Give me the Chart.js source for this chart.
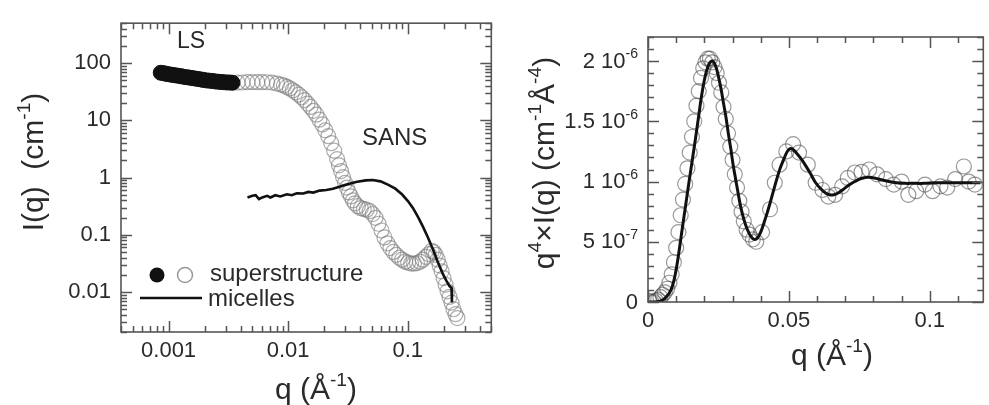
<!DOCTYPE html>
<html>
<head>
<meta charset="utf-8">
<title>Superstructure and micelles scattering</title>
<script src="https://cdn.jsdelivr.net/npm/chart.js@4.4.1/dist/chart.umd.min.js"></script>
<style>
  html, body { margin: 0; padding: 0; background: #fff; }
  #page { position: relative; width: 989px; height: 405px; overflow: hidden; }
  .panel { position: absolute; top: 0; height: 405px; overflow: hidden; }
  #leftPanel { left: 0; width: 500px; }
  #rightPanel { left: 500px; width: 489px; }
</style>
</head>
<body>
<div id="page">
  <div class="panel" id="leftPanel"><canvas id="logPlot" width="500" height="405"></canvas></div>
  <div class="panel" id="rightPanel"><canvas id="porodPlot" width="492" height="405"></canvas></div>
</div>
<script>
// ---- left panel: I(q) on log-log axes ----

// light scattering (filled symbols)
const lsQ = [0.00086, 0.00091, 0.00096, 0.00101, 0.00107, 0.00113, 0.00119, 0.00126, 0.00133, 0.00141,
  0.00149, 0.00157, 0.00166, 0.00176, 0.00186, 0.00196, 0.00207, 0.00219, 0.00232, 0.00245,
  0.00259, 0.00274, 0.0029, 0.00306, 0.00324, 0.00342];
const lsI = [68, 67, 65, 64, 62.5, 61.5, 60.5, 59.5, 58, 57,
  56, 55, 54, 53, 52, 51, 50, 49.5, 49, 48,
  47.5, 47, 46.5, 46, 46, 45.5];

// SANS on the superstructure (open symbols)
const sansQ = [0.00378, 0.00415, 0.00457, 0.00502, 0.00552, 0.00607, 0.00667, 0.00734, 0.00807, 0.00871,
  0.00922, 0.00976, 0.01033, 0.01093, 0.01157, 0.01226, 0.01297, 0.01373, 0.01454, 0.01539,
  0.01629, 0.01724, 0.01825, 0.01932, 0.02046, 0.02165, 0.02293, 0.02427, 0.02569, 0.0266,
  0.0277, 0.02879, 0.0299, 0.031, 0.03226, 0.0335, 0.0348, 0.03615, 0.03827, 0.04052,
  0.04289, 0.04539, 0.04806, 0.05088, 0.05384, 0.05702, 0.06034, 0.06387, 0.06762, 0.07158,
  0.07577, 0.08022, 0.08493, 0.08991, 0.09519, 0.10076, 0.10666, 0.11294, 0.11956, 0.12655,
  0.13396, 0.14184, 0.15014, 0.15892, 0.165, 0.1714, 0.17809, 0.185, 0.192, 0.19957,
  0.2074, 0.2153, 0.22362, 0.2323, 0.2413, 0.25061, 0.26031];
const sansI = [45.7, 46.0, 46.6, 46.6, 46.6, 46.6, 46.4, 45.7, 44.0, 42.3,
  40.7, 38.5, 36.2, 33.6, 30.9, 28.1, 25.4, 22.6, 19.7, 17.2,
  14.7, 12.6, 10.3, 8.5, 6.7, 5.3, 4.0, 2.95, 2.1, 1.64,
  1.30, 1.02, 0.81, 0.67, 0.55, 0.47, 0.40, 0.355, 0.316, 0.292,
  0.281, 0.275, 0.260, 0.231, 0.198, 0.156, 0.119, 0.090, 0.071, 0.0587,
  0.0502, 0.0446, 0.0397, 0.0367, 0.0339, 0.0326, 0.0314, 0.0314, 0.032, 0.0339,
  0.0367, 0.0413, 0.046, 0.0522, 0.050, 0.0446, 0.0367, 0.029, 0.023, 0.0175,
  0.0134, 0.0103, 0.0082, 0.0065, 0.005, 0.0041, 0.0035];

// micelles alone (line)
const micQ = [0.00457, 0.00502, 0.00535, 0.0057, 0.00607, 0.00667, 0.00711, 0.00781, 0.00859, 0.00976,
  0.01073, 0.01179, 0.0134, 0.01472, 0.0162, 0.01836, 0.02084, 0.02367, 0.02685, 0.03048,
  0.03685, 0.04454, 0.05088, 0.05922, 0.06893, 0.07872, 0.08991, 0.10076, 0.1108, 0.1218,
  0.134, 0.1473, 0.162, 0.1781, 0.1958, 0.2113, 0.2236, 0.2323, 0.2343];
const micI = [0.450, 0.481, 0.492, 0.421, 0.450, 0.481, 0.450, 0.492, 0.468, 0.512,
  0.492, 0.532, 0.526, 0.562, 0.547, 0.592, 0.608, 0.640, 0.692, 0.748,
  0.841, 0.893, 0.91, 0.859, 0.748, 0.640, 0.506, 0.385, 0.292, 0.206,
  0.139, 0.0904, 0.0565, 0.0339, 0.0212, 0.0155, 0.0127, 0.0118, 0.00655];

const logTicksQ = [0.001, 0.01, 0.1];
const logTicksI = [0.01, 0.1, 1, 10, 100];

// ---- right panel: q^4 I(q) on linear axes (values in units of 1e-6) ----
const porodQ = [0.0004, 0.0012, 0.002, 0.0028, 0.0036, 0.0044, 0.0052, 0.006, 0.0068, 0.0076,
  0.0084, 0.0092, 0.01, 0.0108, 0.0116, 0.0124, 0.0132, 0.014, 0.0148, 0.0156,
  0.0164, 0.0172, 0.018, 0.0188, 0.0196, 0.0204, 0.0212, 0.022, 0.0228, 0.0236,
  0.0244, 0.0252, 0.026, 0.0268, 0.0276, 0.0284, 0.0292, 0.03, 0.0308, 0.0316,
  0.0324, 0.0332, 0.034, 0.035, 0.036, 0.0372, 0.0384, 0.0405, 0.0433, 0.045,
  0.0467, 0.0491, 0.0515, 0.0536, 0.0567, 0.0595, 0.0619, 0.064, 0.0664, 0.0689,
  0.0709, 0.0734, 0.0758, 0.0785, 0.0813, 0.0844, 0.0872, 0.09, 0.0924, 0.0952,
  0.0983, 0.101, 0.1038, 0.1062, 0.109, 0.1121, 0.1138, 0.116];
const porodV = [0.01, 0.0, 0.0, 0.01, 0.02, 0.04, 0.06, 0.08, 0.11, 0.16,
  0.23, 0.33, 0.45, 0.58, 0.72, 0.85, 0.98, 1.11, 1.24, 1.37,
  1.50, 1.63, 1.75, 1.86, 1.94, 1.99, 2.02, 2.02, 1.99, 1.95,
  1.90, 1.82, 1.74, 1.62, 1.52, 1.40, 1.29, 1.18, 1.06, 0.95,
  0.84, 0.75, 0.67, 0.60, 0.56, 0.52, 0.50, 0.58, 0.77, 0.99,
  1.14, 1.25, 1.31, 1.24, 1.14, 0.99, 0.93, 0.875, 0.89, 0.96,
  1.03, 1.075, 1.08, 1.10, 1.06, 1.02, 0.975, 1.0, 0.89, 0.92,
  0.975, 0.92, 0.96, 0.95, 1.02, 1.125, 1.0, 0.975];

// model curve
const fitQ = [0, 0.002, 0.004, 0.0055, 0.0066, 0.0077, 0.0087, 0.0096, 0.0104, 0.0112,
  0.0121, 0.013, 0.0138, 0.0147, 0.0156, 0.0165, 0.0173, 0.0182, 0.019, 0.0199,
  0.0208, 0.0218, 0.0228, 0.0236, 0.0244, 0.0252, 0.026, 0.0268, 0.0277, 0.0285,
  0.0294, 0.0302, 0.0311, 0.032, 0.0329, 0.0341, 0.0353, 0.0365, 0.0377, 0.0388,
  0.04, 0.0412, 0.0423, 0.0433, 0.0445, 0.0457, 0.0469, 0.0481, 0.0492, 0.0502,
  0.0513, 0.0526, 0.0543, 0.056, 0.0578, 0.0595, 0.0613, 0.063, 0.0645, 0.066,
  0.0675, 0.069, 0.0712, 0.0734, 0.0756, 0.0779, 0.0803, 0.0827, 0.0855, 0.0882,
  0.0912, 0.0941, 0.098, 0.1021, 0.106, 0.1104, 0.114, 0.118];
const fitV = [0, 0, 0.005, 0.02, 0.045, 0.08, 0.135, 0.22, 0.325, 0.45,
  0.60, 0.745, 0.875, 1.02, 1.16, 1.30, 1.43, 1.58, 1.71, 1.83,
  1.92, 1.98, 2.00, 1.98, 1.93, 1.85, 1.76, 1.65, 1.53, 1.40,
  1.27, 1.14, 1.02, 0.90, 0.79, 0.68, 0.60, 0.545, 0.52, 0.53,
  0.58, 0.66, 0.74, 0.82, 0.92, 1.02, 1.11, 1.18, 1.24, 1.27,
  1.27, 1.24, 1.19, 1.13, 1.06, 0.99, 0.94, 0.905, 0.89, 0.89,
  0.905, 0.93, 0.97, 1.00, 1.025, 1.035, 1.03, 1.015, 1.00, 0.99,
  0.985, 0.985, 0.985, 0.99, 0.99, 0.99, 0.99, 0.99];

const linTicksQ = [0, 0.05, 0.1];
const linTicksV = [0, 0.5e-6, 1e-6, 1.5e-6, 2e-6];
const linTickText = [['0', ''], ['5 10', '-7'], ['1 10', '-6'], ['1.5 10', '-6'], ['2 10', '-6']];

const FONT = "'Liberation Sans', Arial, Helvetica, sans-serif";
const INK = '#2a2a2a';
const FRAME = '#555';

const pairs = (xs, ys, k = 1) => xs.map((x, i) => ({ x: x, y: ys[i] * k }));

// text with superscripts; parts = [[text, isSuperscript], ...]
function drawRich(ctx, parts, x, y, size, align) {
  const supSize = size * 0.64;
  let width = 0;
  for (const [t, up] of parts) {
    ctx.font = (up ? supSize : size) + 'px ' + FONT;
    width += ctx.measureText(t).width;
  }
  let cx = align === 'right' ? x - width : align === 'center' ? x - width / 2 : x;
  ctx.textAlign = 'left';
  ctx.textBaseline = 'alphabetic';
  for (const [t, up] of parts) {
    ctx.font = (up ? supSize : size) + 'px ' + FONT;
    ctx.fillText(t, cx, up ? y - size * 0.42 : y);
    cx += ctx.measureText(t).width;
  }
}

function drawRichUp(ctx, parts, x, y, size) {
  ctx.save();
  ctx.translate(x, y);
  ctx.rotate(-Math.PI / 2);
  drawRich(ctx, parts, 0, 0, size, 'center');
  ctx.restore();
}

function logSteps(min, max) {
  const out = [];
  for (let e = Math.floor(Math.log10(min)); e <= Math.ceil(Math.log10(max)); e++) {
    for (let m = 1; m <= 9; m++) {
      const v = m * Math.pow(10, e);
      if (v >= min && v <= max) out.push([v, m === 1]);
    }
  }
  return out;
}

function linSteps(min, max, step, every) {
  const out = [];
  for (let i = 0; i * step <= max + 1e-12; i++) {
    const v = i * step;
    if (v >= min) out.push([v, i % every === 0]);
  }
  return out;
}

// box around the plot with inward ticks on all four sides
function drawFrame(chart, xMarks, yMarks) {
  const ctx = chart.ctx;
  const { left, right, top, bottom } = chart.chartArea;
  const xs = chart.scales.x, ys = chart.scales.y;
  ctx.save();
  ctx.strokeStyle = FRAME;
  ctx.lineWidth = 1.6;
  ctx.strokeRect(left, top, right - left, bottom - top);
  ctx.lineWidth = 1.5;
  ctx.beginPath();
  for (const [v, major] of xMarks) {
    const p = Math.round(xs.getPixelForValue(v)) + 0.5;
    const len = major ? 11 : 6;
    ctx.moveTo(p, bottom); ctx.lineTo(p, bottom - len);
    ctx.moveTo(p, top); ctx.lineTo(p, top + len);
  }
  for (const [v, major] of yMarks) {
    const p = Math.round(ys.getPixelForValue(v)) + 0.5;
    const len = major ? 11 : 6;
    ctx.moveTo(left, p); ctx.lineTo(left + len, p);
    ctx.moveTo(right, p); ctx.lineTo(right - len, p);
  }
  ctx.stroke();
  ctx.restore();
}

const leftDecor = {
  id: 'leftDecor',
  afterDraw(chart) {
    const ctx = chart.ctx;
    drawFrame(chart, logSteps(0.0004, 0.5), logSteps(0.002, 500));
    ctx.save();
    ctx.fillStyle = INK;
    drawRichUp(ctx, [['I(q)  (cm', false], ['-1', true], [')', false]], 43, 162, 30);
    drawRich(ctx, [['q (Å', false], ['-1', true], [')', false]], 316, 399, 30, 'center');
    drawRich(ctx, [['LS', false]], 177, 48, 23, 'left');
    drawRich(ctx, [['SANS', false]], 362, 145, 24, 'left');

    // key
    ctx.beginPath();
    ctx.arc(157, 275, 7.5, 0, Math.PI * 2);
    ctx.fillStyle = '#111';
    ctx.fill();
    ctx.beginPath();
    ctx.arc(185, 275, 7.5, 0, Math.PI * 2);
    ctx.strokeStyle = '#999';
    ctx.lineWidth = 1.5;
    ctx.stroke();
    ctx.beginPath();
    ctx.moveTo(140, 298);
    ctx.lineTo(202, 298);
    ctx.strokeStyle = '#111';
    ctx.lineWidth = 2.6;
    ctx.stroke();
    ctx.fillStyle = INK;
    drawRich(ctx, [['superstructure', false]], 210, 281, 24, 'left');
    drawRich(ctx, [['micelles', false]], 208, 306, 24, 'left');
    ctx.restore();
  }
};

const rightDecor = {
  id: 'rightDecor',
  afterDraw(chart) {
    const ctx = chart.ctx;
    drawFrame(chart, linSteps(0, 0.119, 0.01, 5), linSteps(0, 2.2e-6, 1e-7, 5));
    const ys = chart.scales.y;
    ctx.save();
    ctx.fillStyle = INK;
    linTicksV.forEach((v, i) => {
      const [base, exp] = linTickText[i];
      const parts = exp ? [[base, false], [exp, true]] : [[base, false]];
      drawRich(ctx, parts, chart.chartArea.left - 10, ys.getPixelForValue(v) + 6.5, 22, 'right');
    });
    drawRichUp(ctx, [['q', false], ['4', true], ['×I(q) (cm', false], ['-1', true], ['Å', false], ['-4', true], [')', false]], 54, 163, 30);
    drawRich(ctx, [['q (Å', false], ['-1', true], [')', false]], 332, 365, 30, 'center');
    ctx.restore();
  }
};

const tickFont = { family: FONT, size: 22 };

new Chart(document.getElementById('logPlot'), {
  type: 'scatter',
  data: {
    datasets: [
      {
        label: 'micelles',
        data: pairs(micQ, micI),
        showLine: true,
        borderColor: '#111',
        borderWidth: 2.6,
        pointRadius: 0,
        tension: 0,
        order: 0
      },
      {
        label: 'LS',
        data: pairs(lsQ, lsI),
        pointRadius: 7.5,
        backgroundColor: '#111',
        borderColor: '#111',
        borderWidth: 1,
        order: 1
      },
      {
        label: 'SANS',
        data: pairs(sansQ, sansI),
        pointRadius: 7.5,
        backgroundColor: 'rgba(0,0,0,0)',
        borderColor: 'rgba(120,120,120,0.6)',
        borderWidth: 1.2,
        order: 2
      }
    ]
  },
  options: {
    responsive: false,
    animation: false,
    layout: { padding: { top: 15, right: 4, left: 0, bottom: 0 } },
    plugins: { legend: { display: false }, tooltip: { enabled: false } },
    scales: {
      x: {
        type: 'logarithmic',
        min: 0.0004,
        max: 0.5,
        grid: { display: false, drawTicks: false },
        border: { display: false },
        afterBuildTicks: s => { s.ticks = logTicksQ.map(v => ({ value: v })); },
        afterFit: s => { s.height = 73; },
        ticks: { callback: v => String(v), font: tickFont, color: INK, padding: 6, maxRotation: 0, autoSkip: false }
      },
      y: {
        type: 'logarithmic',
        min: 0.002,
        max: 500,
        grid: { display: false, drawTicks: false },
        border: { display: false },
        afterBuildTicks: s => { s.ticks = logTicksI.map(v => ({ value: v })); },
        afterFit: s => { s.width = 121; },
        ticks: { callback: v => String(v), font: tickFont, color: INK, padding: 10, autoSkip: false }
      }
    }
  },
  plugins: [leftDecor]
});

new Chart(document.getElementById('porodPlot'), {
  type: 'scatter',
  data: {
    datasets: [
      {
        label: 'fit',
        data: pairs(fitQ, fitV, 1e-6),
        showLine: true,
        borderColor: '#111',
        borderWidth: 3,
        pointRadius: 0,
        tension: 0.3,
        order: 0
      },
      {
        label: 'q4 I(q)',
        data: pairs(porodQ, porodV, 1e-6),
        pointRadius: 7.5,
        backgroundColor: 'rgba(0,0,0,0)',
        borderColor: 'rgba(70,70,70,0.55)',
        borderWidth: 1.2,
        order: 1
      }
    ]
  },
  options: {
    responsive: false,
    animation: false,
    layout: { padding: { top: 37, right: 0, left: 0, bottom: 0 } },
    plugins: { legend: { display: false }, tooltip: { enabled: false } },
    scales: {
      x: {
        type: 'linear',
        min: 0,
        max: 0.119,
        grid: { display: false, drawTicks: false },
        border: { display: false },
        afterBuildTicks: s => { s.ticks = linTicksQ.map(v => ({ value: v })); },
        afterFit: s => { s.height = 103; },
        ticks: { callback: v => String(v), font: tickFont, color: INK, padding: 6, maxRotation: 0, autoSkip: false }
      },
      y: {
        type: 'linear',
        min: 0,
        max: 2.2e-6,
        grid: { display: false, drawTicks: false },
        border: { display: false },
        afterFit: s => { s.width = 148; },
        ticks: { display: false }
      }
    }
  },
  plugins: [rightDecor]
});
</script>
</body>
</html>
